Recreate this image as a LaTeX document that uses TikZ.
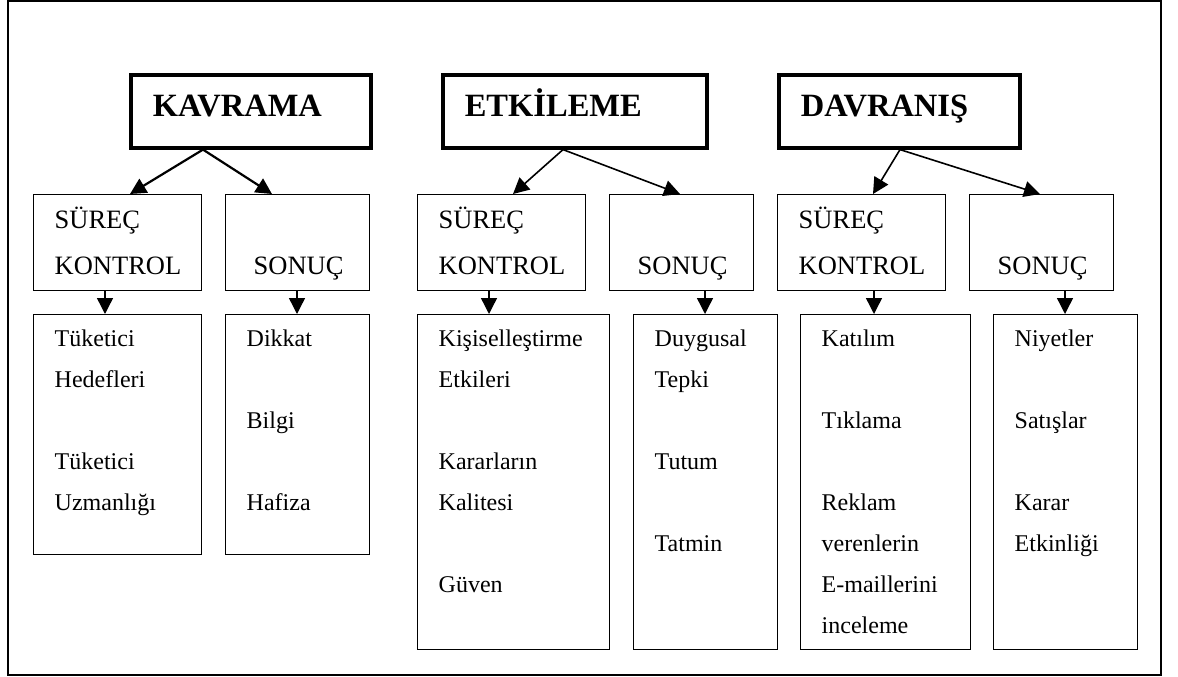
\documentclass[tikz,border=0pt]{standalone}
\usepackage{fontspec}
\setmainfont{Liberation Serif}
\usetikzlibrary{arrows.meta}
\tikzset{
	outerframe/.style={line width=1.3pt},
	headbox/.style={draw, line width=3.6pt, anchor=north west, align=left, inner xsep=22pt, inner ysep=0pt, text height=42pt, text depth=31pt, font=\fontsize{32.5}{38}\selectfont\bfseries},
	midbox/.style={draw, line width=1.4pt, anchor=north west, align=left, text width=126pt, inner xsep=21pt, inner ysep=0pt, text height=34pt, text depth=62pt, font=\fontsize{26.5}{46}\selectfont},
	sonucbox/.style={midbox, text width=88pt, inner xsep=28pt, text height=80pt, text depth=16pt},
	listbox/.style={draw, line width=1.4pt, anchor=north west, align=left, inner xsep=21pt, inner ysep=0pt, text height=32pt, font=\fontsize{24}{41}\selectfont},
	toparrow/.style={-{Triangle[length=16pt,width=16pt]}, line width=1.6pt},
	downarrow/.style={-{Triangle[length=16pt,width=16pt]}, line width=1.4pt}
}
\begin{document}
\begin{tikzpicture}[x=1pt, y=-1pt]
	\useasboundingbox (0,0) rectangle (1178,677);
	\draw[outerframe] (8,1) rectangle (1161,675);

	\node[headbox, text width=196pt] (kav) at (129,73) {KAVRAMA};
	\node[headbox, text width=220pt] (etk) at (441,73) {ETKİLEME};
	\node[headbox, text width=197pt] (dav) at (777,73) {DAVRANIŞ};

	\node[midbox] (kavS) at (33,194) {SÜREÇ\\KONTROL};
	\node[sonucbox] (kavO) at (225,194) {SONUÇ};
	\node[midbox] (etkS) at (417,194) {SÜREÇ\\KONTROL};
	\node[sonucbox] (etkO) at (609,194) {SONUÇ};
	\node[midbox] (davS) at (777,194) {SÜREÇ\\KONTROL};
	\node[sonucbox] (davO) at (969,194) {SONUÇ};

	\node[listbox, text width=126pt, text depth=208pt] (kavL) at (33,314) {Tüketici\\Hedefleri\\[41pt]Tüketici\\Uzmanlığı};
	\node[listbox, text width=102pt, text depth=208pt] (kavR) at (225,314) {Dikkat\\[41pt]Bilgi\\[41pt]Hafiza};
	\node[listbox, text width=150pt, text depth=303pt] (etkL) at (417,314) {Kişiselleştirme\\Etkileri\\[41pt]Kararların\\Kalitesi\\[41pt]Güven};
	\node[listbox, text width=102pt, text depth=303pt] (etkR) at (633,314) {Duygusal\\Tepki\\[41pt]Tutum\\[41pt]Tatmin};
	\node[listbox, text width=128pt, text depth=303pt] (davL) at (800,314) {Katılım\\[41pt]Tıklama\\[41pt]Reklam\\verenlerin\\E-maillerini\\inceleme};
	\node[listbox, text width=102pt, text depth=303pt] (davR) at (993,314) {Niyetler\\[41pt]Satışlar\\[41pt]Karar\\Etkinliği};

	\draw[toparrow, line width=2.2pt] ([xshift=74pt]kav.south west) -- ([xshift=97pt]kavS.north west);
	\draw[toparrow, line width=2.2pt] ([xshift=74pt]kav.south west) -- ([xshift=47pt]kavO.north west);
	\draw[toparrow] ([xshift=122pt]etk.south west) -- ([xshift=96pt]etkS.north west);
	\draw[toparrow] ([xshift=122pt]etk.south west) -- ([xshift=71pt]etkO.north west);
	\draw[toparrow] ([xshift=123pt]dav.south west) -- ([xshift=96pt]davS.north west);
	\draw[toparrow] ([xshift=123pt]dav.south west) -- ([xshift=71pt]davO.north west);

	\coordinate (kavA) at ([xshift=72pt]kavS.south west);
	\coordinate (kavB) at ([xshift=72pt]kavO.south west);
	\coordinate (etkA) at ([xshift=72pt]etkS.south west);
	\coordinate (etkB) at ([xshift=96pt]etkO.south west);
	\coordinate (davA) at ([xshift=97pt]davS.south west);
	\coordinate (davB) at ([xshift=96pt]davO.south west);
	\draw[downarrow] (kavA) -- (kavA |- kavL.north);
	\draw[downarrow] (kavB) -- (kavB |- kavR.north);
	\draw[downarrow] (etkA) -- (etkA |- etkL.north);
	\draw[downarrow] (etkB) -- (etkB |- etkR.north);
	\draw[downarrow] (davA) -- (davA |- davL.north);
	\draw[downarrow] (davB) -- (davB |- davR.north);
\end{tikzpicture}
\end{document}
